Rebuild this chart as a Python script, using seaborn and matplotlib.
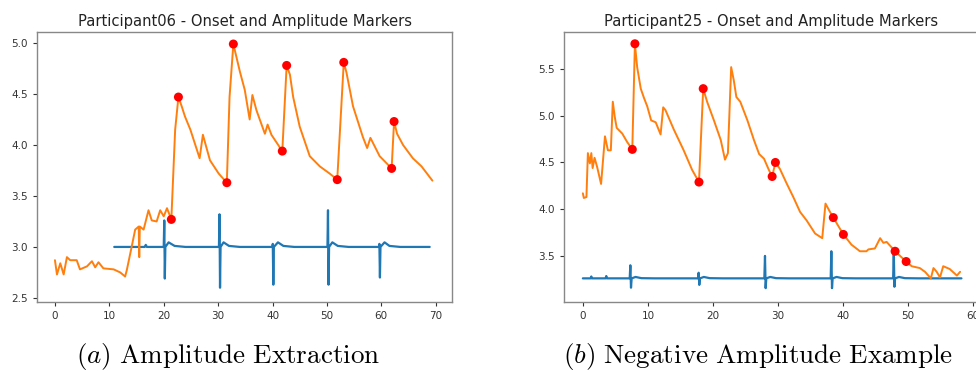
import matplotlib
matplotlib.use("Agg")
import matplotlib.pyplot as plt
import seaborn as sns
import pandas as pd

# ---------------- data: Participant06 ----------------
p06_eda_x = [0.0, 0.37, 0.98, 1.6, 2.2, 2.8, 4.0, 4.6, 5.9, 6.8, 7.4, 8.0, 8.9, 10.8, 12.0, 12.9, 13.2,
             14.1, 14.75, 15.4, 15.5, 15.6, 16.3, 17.2, 17.8, 18.7, 19.35, 20.0, 20.6, 21.4,
             22.1, 22.7, 23.3, 23.9, 24.9, 26.6, 27.2, 28.5, 30.1, 31.6, 32.1, 32.8,
             34.0, 34.9, 35.8, 36.3, 37.05, 38.6, 39.1, 39.8, 41.8, 42.6, 43.2, 43.8, 45.0,
             46.85, 48.7, 50.5, 51.9, 53.1, 53.6, 54.8, 56.6, 57.4, 58.0, 59.7, 61.9, 62.35,
             62.9, 64.0, 65.8, 67.4, 69.4]
p06_eda_y = [2.87, 2.73, 2.84, 2.73, 2.90, 2.87, 2.87, 2.78, 2.81, 2.86, 2.80, 2.85, 2.79, 2.78, 2.75, 2.71, 2.77,
             3.00, 3.17, 3.20, 2.90, 3.20, 3.17, 3.36, 3.26, 3.25, 3.36, 3.30, 3.38, 3.27,
             4.15, 4.47, 4.38, 4.28, 4.15, 3.87, 4.10, 3.85, 3.72, 3.63, 4.47, 4.99,
             4.72, 4.54, 4.25, 4.49, 4.34, 4.11, 4.20, 4.10, 3.94, 4.78, 4.69, 4.47, 4.18,
             3.89, 3.79, 3.72, 3.66, 4.81, 4.71, 4.38, 4.08, 3.97, 4.07, 3.89, 3.77, 4.23,
             4.11, 4.00, 3.87, 3.79, 3.65]
p06_sig_x = [10.9, 16.5, 16.7, 16.9, 20.0, 20.1, 20.2, 20.3, 20.9, 22.0, 24.0,
             30.15, 30.25, 30.35, 30.45, 31.0, 32.0, 34.0,
             40.0, 40.05, 40.15, 40.25, 41.0, 42.0, 44.0,
             50.1, 50.2, 50.3, 50.4, 51.0, 52.0, 54.0,
             59.6, 59.65, 59.75, 59.85, 60.6, 61.5, 63.5, 68.9]
p06_sig_y = [3.00, 3.00, 3.02, 3.00, 3.00, 3.26, 2.69, 3.00, 3.045, 3.01, 3.00,
             3.00, 3.32, 2.60, 3.00, 3.045, 3.01, 3.00,
             3.00, 3.03, 2.63, 3.00, 3.045, 3.01, 3.00,
             3.00, 3.36, 2.63, 3.00, 3.045, 3.01, 3.00,
             3.00, 3.03, 2.70, 3.00, 3.045, 3.01, 3.00, 3.00]
p06_mark_x = [21.4, 22.7, 31.6, 32.8, 41.8, 42.6, 51.9, 53.1, 61.9, 62.35]
p06_mark_y = [3.27, 4.47, 3.63, 4.99, 3.94, 4.78, 3.66, 4.81, 3.77, 4.23]

# ---------------- data: Participant25 ----------------
p25_eda_x = [0.0, 0.15, 0.55, 0.77, 1.08, 1.3, 1.5, 1.8, 2.2, 2.8, 3.4, 3.85, 4.3, 4.6, 4.9, 5.2, 6.05,
             6.8, 7.6, 8.0, 8.35, 8.9, 9.4, 9.9, 10.5, 11.2, 11.95, 12.35, 12.7, 14.0, 15.5, 16.8,
             17.85, 18.5, 19.1, 20.15, 21.2, 21.85, 22.3, 22.8, 23.2, 23.6, 24.2, 25.3, 26.3, 27.1,
             27.85, 28.6, 29.1, 29.6, 30.3, 31.3, 32.35, 33.4, 34.4, 35.7, 36.8, 37.3, 38.0, 38.5,
             40.05, 41.3, 42.6, 43.6, 43.9, 44.9, 45.7, 46.2, 46.7, 48.0, 49.7, 50.55, 51.8, 52.6,
             53.5, 53.9, 54.4, 54.9, 55.4, 56.4, 57.5, 58.0]
p25_eda_y = [4.17, 4.12, 4.13, 4.60, 4.49, 4.60, 4.44, 4.55, 4.45, 4.27, 4.78, 4.63, 4.63, 5.15, 4.99, 4.87, 4.81,
             4.72, 4.64, 5.77, 5.52, 5.29, 5.19, 5.10, 4.95, 4.93, 4.80, 5.09, 5.06, 4.85, 4.63, 4.42,
             4.29, 5.29, 5.15, 4.95, 4.74, 4.53, 4.60, 5.52, 5.38, 5.20, 5.15, 4.95, 4.74, 4.59,
             4.54, 4.42, 4.35, 4.50, 4.43, 4.28, 4.13, 3.97, 3.88, 3.74, 3.69, 4.06, 3.97, 3.91,
             3.73, 3.62, 3.55, 3.55, 3.57, 3.58, 3.69, 3.64, 3.65, 3.55, 3.44, 3.39, 3.37, 3.33,
             3.26, 3.37, 3.33, 3.27, 3.39, 3.36, 3.29, 3.33]
p25_sig_x = [0.0, 1.2, 1.3, 1.4, 3.5, 3.6, 3.7, 7.2, 7.3, 7.4, 7.5, 8.1, 9.0, 11.0,
             17.7, 17.8, 17.9, 18.0, 18.6, 19.5, 21.5,
             27.9, 28.0, 28.1, 28.2, 28.8, 29.7, 31.7,
             38.1, 38.2, 38.3, 38.4, 39.0, 39.9, 41.9,
             47.7, 47.8, 47.9, 48.0, 48.6, 49.5, 51.5, 58.2]
p25_sig_y = [3.26, 3.26, 3.28, 3.26, 3.26, 3.285, 3.26, 3.26, 3.40, 3.16, 3.26, 3.275, 3.262, 3.26,
             3.26, 3.32, 3.19, 3.26, 3.275, 3.262, 3.26,
             3.26, 3.50, 3.155, 3.26, 3.275, 3.262, 3.26,
             3.26, 3.55, 3.155, 3.26, 3.275, 3.262, 3.26,
             3.26, 3.54, 3.17, 3.26, 3.275, 3.262, 3.26, 3.26]
p25_mark_x = [7.6, 8.0, 17.85, 18.5, 29.1, 29.6, 38.5, 40.05, 48.0, 49.7]
p25_mark_y = [4.64, 5.77, 4.29, 5.29, 4.35, 4.50, 3.91, 3.73, 3.55, 3.44]

titles = ["Participant06 - Onset and Amplitude Markers", "Participant25 - Onset and Amplitude Markers"]
captions = [r"$(a)\ \mathrm{Amplitude\ Extraction}$", r"$(b)\ \mathrm{Negative\ Amplitude\ Example}$"]
xticks = [[0, 10, 20, 30, 40, 50, 60, 70], [0, 10, 20, 30, 40, 50, 60]]
yticks = [[2.5, 3.0, 3.5, 4.0, 4.5, 5.0], [3.5, 4.0, 4.5, 5.0, 5.5]]

sns.set_theme(style="ticks")
plt.rcParams["font.family"] = ["DejaVu Sans"]
plt.rcParams["mathtext.fontset"] = "cm"

W, H = 976, 371
fig = plt.figure(figsize=(W / 100, H / 100), dpi=100)
ax1 = fig.add_axes([37 / W, 69 / H, 415 / W, 270 / H])
ax2 = fig.add_axes([564 / W, 69 / H, 415 / W, 270 / H])

datasets = [
    (p06_sig_x, p06_sig_y, p06_eda_x, p06_eda_y, p06_mark_x, p06_mark_y),
    (p25_sig_x, p25_sig_y, p25_eda_x, p25_eda_y, p25_mark_x, p25_mark_y),
]
lims = [((-3.3, 73.0), (2.46, 5.108)), ((-2.9, 60.9), (3.007, 5.896))]

for ax, (sx, sy, ex, ey, mx, my), title, xt, yt, (xl, yl) in zip(
        [ax1, ax2], datasets, titles, xticks, yticks, lims):
    sig = pd.DataFrame({"t": sx, "v": sy})
    eda = pd.DataFrame({"t": ex, "v": ey})
    mk = pd.DataFrame({"t": mx, "v": my})
    sns.lineplot(data=sig, x="t", y="v", ax=ax, color="#1f77b4", lw=1.6,
                 estimator=None, sort=False)
    sns.lineplot(data=eda, x="t", y="v", ax=ax, color="#ff7f0e", lw=1.4,
                 estimator=None, sort=False)
    sns.scatterplot(data=mk, x="t", y="v", ax=ax, color="red", s=42,
                    edgecolor="none", zorder=5)
    ax.set_xlim(*xl)
    ax.set_ylim(*yl)
    ax.set_xticks(xt)
    ax.set_yticks(yt)
    ax.set_xlabel("")
    ax.set_ylabel("")
    ax.set_title(title, fontsize=10.6, color="#222222", pad=4)
    ax.tick_params(labelsize=7.5, colors="#333333", length=3, width=0.8)
    for sp in ax.spines.values():
        sp.set_color("#888888")
        sp.set_linewidth(1.0)

fig.text(228 / W, 8 / H, captions[0], ha="center", va="baseline", fontsize=19.5, color="black")
fig.text(758 / W, 8 / H, captions[1], ha="center", va="baseline", fontsize=19.5, color="black")

fig.savefig("out.png", dpi=100)
